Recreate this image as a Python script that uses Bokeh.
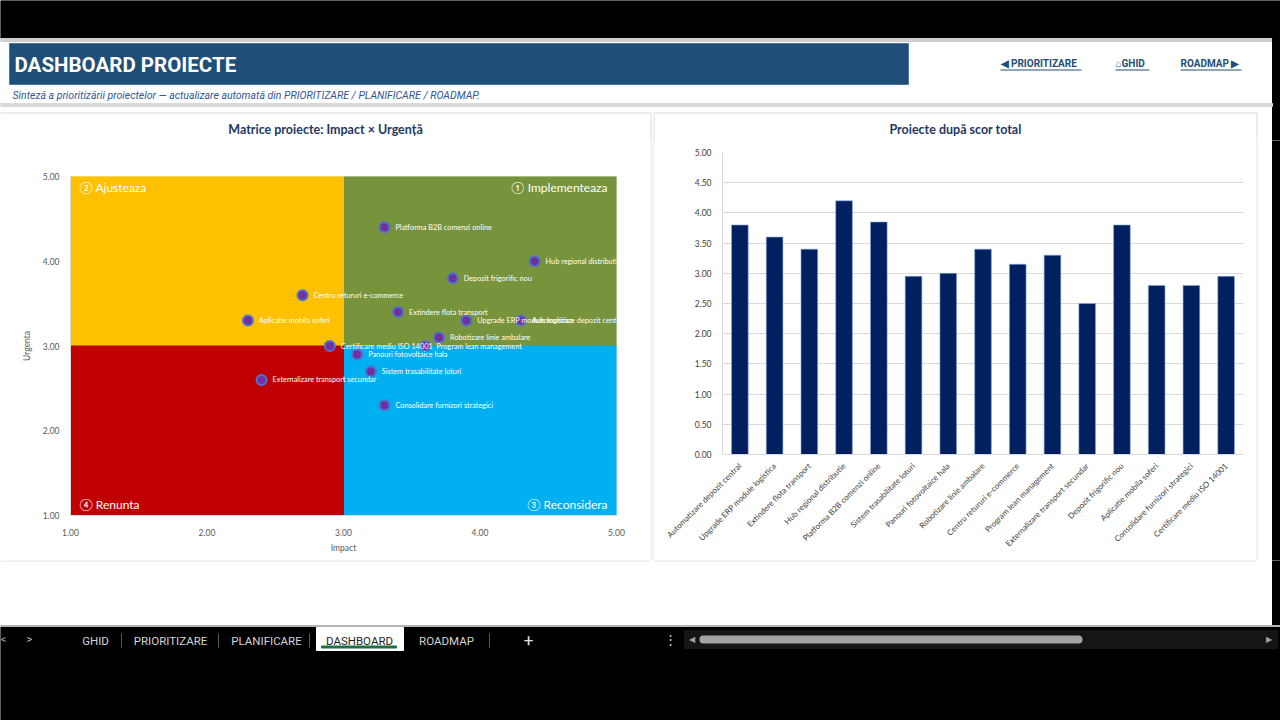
import math
from bokeh.plotting import figure
from bokeh.models import Range1d, FactorRange, ColumnDataSource, NumeralTickFormatter, FixedTicker, SingleIntervalTicker
from bokeh.layouts import column, row
from bokeh.core.properties import value
from bokeh.embed import file_html
from bokeh.resources import INLINE

# ---------------- data ----------------
projects = [
    "Automatizare depozit central", "Upgrade ERP module logistica", "Extindere flota transport",
    "Hub regional distributie", "Platforma B2B comenzi online", "Sistem trasabilitate loturi",
    "Panouri fotovoltaice hala", "Robotizare linie ambalare", "Centru retururi e-commerce",
    "Program lean management", "Externalizare transport secundar", "Depozit frigorific nou",
    "Aplicatie mobila soferi", "Consolidare furnizori strategici", "Certificare mediu ISO 14001",
]
impact = [4.3, 3.9, 3.4, 4.4, 3.3, 3.2, 3.1, 3.7, 2.7, 3.6, 2.4, 3.8, 2.3, 3.3, 2.9]
urgency = [3.3, 3.3, 3.4, 4.0, 4.4, 2.7, 2.9, 3.1, 3.6, 3.0, 2.6, 3.8, 3.3, 2.3, 3.0]
total_score = [3.80, 3.60, 3.40, 4.20, 3.85, 2.95, 3.00, 3.40, 3.15, 3.30, 2.50, 3.80, 2.80, 2.80, 2.95]

matrix_min, matrix_max = 1.0, 5.0
impact_split, urgency_split = 3.0, 3.0
matrix_ticks = [1.0, 2.0, 3.0, 4.0, 5.0]

quadrant_names = ["\u2460 Implementeaza", "\u2461 Ajusteaza", "\u2462 Reconsidera", "\u2463 Renunta"]
quadrant_colors = ["#77933C", "#FFC000", "#00B0F0", "#C00000"]

score_max = 5.0
score_step = 0.5

page_title = "DASHBOARD PROIECTE"
page_subtitle = ("Sinteză a prioritizării proiectelor — actualizare automată din "
                 "PRIORITIZARE / PLANIFICARE / ROADMAP.")
matrix_title = "Matrice proiecte: Impact × Urgență"
bars_title = "Proiecte după scor total"

UI_FONT = value("Roboto")
CHART_FONT = value("Lato")
AXIS_FONT = "Lato"
NAVY = "#1F3864"
BORDER = "#D9D9D9"


def canvas(w, h, x0, y0):
    """Plain drawing surface in page pixel coordinates (y grows downward)."""
    p = figure(width=w, height=h, x_range=Range1d(x0, x0 + w), y_range=Range1d(y0 + h, y0),
               output_backend="svg", toolbar_location=None, title=None, min_border=0,
               x_axis_type=None, y_axis_type=None, frame_align=False)
    p.outline_line_color = None
    p.background_fill_color = "white"
    p.border_fill_color = "white"
    return p


# ---------------- header band ----------------
head = canvas(1280, 140, 0, 0)
head.quad(left=[0], right=[1280], top=[0], bottom=[38], color="black")
head.quad(left=[0], right=[1272], top=[38], bottom=[41], color="#CFCFCF")
head.quad(left=[1272], right=[1280], top=[38], bottom=[140], color="black")
head.quad(left=[9], right=[908], top=[43], bottom=[84], fill_color="#1F4E79", line_color="#4F74A0")
head.text(x=[14], y=[64.5], text=[page_title], text_color="white", text_font=UI_FONT,
          text_font_style="bold", text_font_size="20.5px", text_baseline="middle")
head.text(x=[12], y=[95], text=[page_subtitle], text_color="#2F5597", text_font=UI_FONT,
          text_font_style="italic", text_font_size="10.5px", text_baseline="middle")

links = ["\u25C0 PRIORITIZARE", "\u2302GHID", "ROADMAP \u25B6"]
link_x = [1000, 1115, 1180]
link_w = [81, 34, 61]
head.text(x=link_x, y=[63] * 3, text=links, text_color="#1F4E79", text_font=UI_FONT,
          text_font_style="bold", text_font_size="10px", text_baseline="middle")
head.segment(x0=link_x, y0=[69.5] * 3, x1=[a + b for a, b in zip(link_x, link_w)], y1=[69.5] * 3,
             line_color="#1F4E79", line_width=1)

head.quad(left=[0], right=[1272], top=[103], bottom=[106], color="#DADADA")
head.segment(x0=[0, 654], y0=[112.5, 112.5], x1=[650, 1256], y1=[112.5, 112.5],
             line_color=BORDER, line_width=1)
head.segment(x0=[650.5, 653.5, 1256.5], y0=[112, 112, 112], x1=[650.5, 653.5, 1256.5],
             y1=[140, 140, 140], line_color=BORDER, line_width=1)
head.text(x=[325, 955], y=[129, 129], text=[matrix_title, bars_title], text_color=NAVY,
          text_font=CHART_FONT, text_font_style="bold", text_font_size="12.5px",
          text_align="center", text_baseline="middle")

# ---------------- impact x urgency matrix ----------------
mx = figure(width=650, height=420, x_range=Range1d(matrix_min, matrix_max),
            y_range=Range1d(matrix_min, matrix_max), output_backend="svg",
            toolbar_location=None, title=None, frame_align=False,
            min_border_left=70, min_border_right=34, min_border_top=36, min_border_bottom=45)
mx.outline_line_color = None
mx.xgrid.visible = False
mx.ygrid.visible = False
mx.background_fill_color = "white"
mx.border_fill_color = "white"

quad_src = ColumnDataSource(dict(
    left=[impact_split, matrix_min, impact_split, matrix_min],
    right=[matrix_max, impact_split, matrix_max, impact_split],
    bottom=[urgency_split, urgency_split, matrix_min, matrix_min],
    top=[matrix_max, matrix_max, urgency_split, urgency_split],
    color=quadrant_colors,
))
mx.quad(left="left", right="right", bottom="bottom", top="top", color="color", source=quad_src)

# quadrant captions sit in the outer corner of each quadrant
corner_src = ColumnDataSource(dict(
    x=[matrix_max, matrix_min, matrix_max, matrix_min],
    y=[matrix_max, matrix_max, matrix_min, matrix_min],
    text=quadrant_names,
    align=["right", "left", "right", "left"],
    xo=[-9, 9, -9, 9],
    yo=[11, 11, -11, -11],
))
mx.text(x="x", y="y", text="text", text_align="align", x_offset="xo", y_offset="yo",
        source=corner_src, text_color="white", text_font=CHART_FONT, text_font_size="12px",
        text_baseline="middle")

pts = ColumnDataSource(dict(x=impact, y=urgency, name=projects))
mx.scatter(x="x", y="y", source=pts, size=10, fill_color="#7030A0",
           line_color="#4F73CF", line_width=2)
mx.text(x="x", y="y", text="name", source=pts, x_offset=11, text_color="white",
        text_font=CHART_FONT, text_font_size="7.3px", text_baseline="middle")

for ax in (mx.xaxis[0], mx.yaxis[0]):
    ax.ticker = FixedTicker(ticks=matrix_ticks)
    ax.formatter = NumeralTickFormatter(format="0.00")
    ax.major_tick_line_color = None
    ax.minor_tick_line_color = None
    ax.axis_line_color = BORDER
    ax.major_label_text_font = AXIS_FONT
    ax.major_label_text_font_size = "8.5px"
    ax.major_label_text_color = "#595959"
    ax.axis_label_text_font = AXIS_FONT
    ax.axis_label_text_font_size = "8.5px"
    ax.axis_label_text_color = "#595959"
    ax.axis_label_text_font_style = "normal"
mx.xaxis.axis_label = "Impact"
mx.yaxis.axis_label = "Urgenta"
mx.xaxis.major_label_standoff = 7
mx.yaxis.major_label_standoff = 5
mx.xaxis.axis_label_standoff = 4
mx.yaxis.axis_label_standoff = 8

# gap between the two panels
gap = canvas(4, 420, 650, 140)
gap.segment(x0=[650.5, 653.5], y0=[140, 140], x1=[650.5, 653.5], y1=[560, 560],
            line_color=BORDER, line_width=1)

# ---------------- total score bars ----------------
bars = figure(width=602, height=420, x_range=FactorRange(*projects),
              y_range=Range1d(0, score_max), output_backend="svg",
              toolbar_location=None, title=None, frame_align=False,
              min_border_left=68, min_border_right=13, min_border_top=12, min_border_bottom=106)
bars.outline_line_color = None
bars.background_fill_color = "white"
bars.border_fill_color = "white"
bars.vbar(x=projects, top=total_score, width=0.48, fill_color="#002060",
          line_color="#8FAADC", line_width=0.6)
bars.xgrid.visible = False
bars.ygrid.grid_line_color = BORDER
bars.yaxis.ticker = SingleIntervalTicker(interval=score_step)
bars.yaxis.formatter = NumeralTickFormatter(format="0.00")
for ax in (bars.xaxis[0], bars.yaxis[0]):
    ax.major_tick_line_color = None
    ax.minor_tick_line_color = None
    ax.axis_line_color = BORDER
    ax.major_label_text_font = AXIS_FONT
    ax.major_label_text_color = "#404040"
bars.yaxis.major_label_text_font_size = "8.5px"
bars.yaxis.major_label_standoff = 5
bars.xaxis.major_label_text_font_size = "8px"
bars.xaxis.major_label_orientation = math.pi / 4
bars.xaxis.major_label_standoff = 4

# right window edge
edge = canvas(24, 420, 1256, 140)
edge.segment(x0=[1256.5], y0=[140], x1=[1256.5], y1=[560], line_color=BORDER, line_width=1)
edge.quad(left=[1272], right=[1280], top=[140], bottom=[560], color="black")

# ---------------- sheet tabs ----------------
foot = canvas(1280, 160, 0, 560)
foot.segment(x0=[0, 654], y0=[560.5, 560.5], x1=[650, 1256], y1=[560.5, 560.5],
             line_color=BORDER, line_width=1)
foot.quad(left=[1272], right=[1280], top=[560], bottom=[627], color="black")
foot.quad(left=[0], right=[1280], top=[625], bottom=[627], color="#B5B5B5")
foot.quad(left=[0], right=[1280], top=[627], bottom=[720], color="black")
foot.quad(left=[316], right=[403], top=[627], bottom=[650], color="white")
foot.quad(left=[321], right=[396], top=[645.5], bottom=[647.5], color="#1E7145")

tabs = ["GHID", "PRIORITIZARE", "PLANIFICARE", "DASHBOARD", "ROADMAP"]
tab_x = [95, 170, 266, 359, 446]
tab_col = ["#D4D4D4", "#D4D4D4", "#D4D4D4", "#1F1F1F", "#D4D4D4"]
foot.text(x=tab_x, y=[640] * 5, text=tabs, text_color=tab_col, text_font=UI_FONT,
          text_font_size="11.5px", text_align="center", text_baseline="middle")
foot.segment(x0=[121, 218, 309, 489], y0=[633] * 4, x1=[121, 218, 309, 489], y1=[647] * 4,
             line_color="#5A5A5A", line_width=1)
foot.text(x=[3, 29, 528, 670], y=[639, 639, 639, 639], text=["<", ">", "+", "\u22EE"],
          text_color=["#9A9A9A", "#C8C8C8", "#E0E0E0", "#D0D0D0"], text_font=UI_FONT,
          text_font_size=["11px", "11px", "17px", "13px"], text_align="center",
          text_baseline="middle")
foot.quad(left=[684], right=[1277], top=[630], bottom=[648], color="#151515")
foot.segment(x0=[703], y0=[639], x1=[1078], y1=[639], line_width=8, line_cap="round",
             line_color="#A3A3A3")
foot.text(x=[691, 1268], y=[639, 639], text=["\u25C0", "\u25B6"], text_color="#A0A0A0",
          text_font=UI_FONT, text_font_size="8px", text_align="center", text_baseline="middle")

layout = column(head, row(mx, gap, bars, edge), foot)

with open("out.html", "w") as f:
    f.write(file_html(layout, INLINE, title=page_title))
